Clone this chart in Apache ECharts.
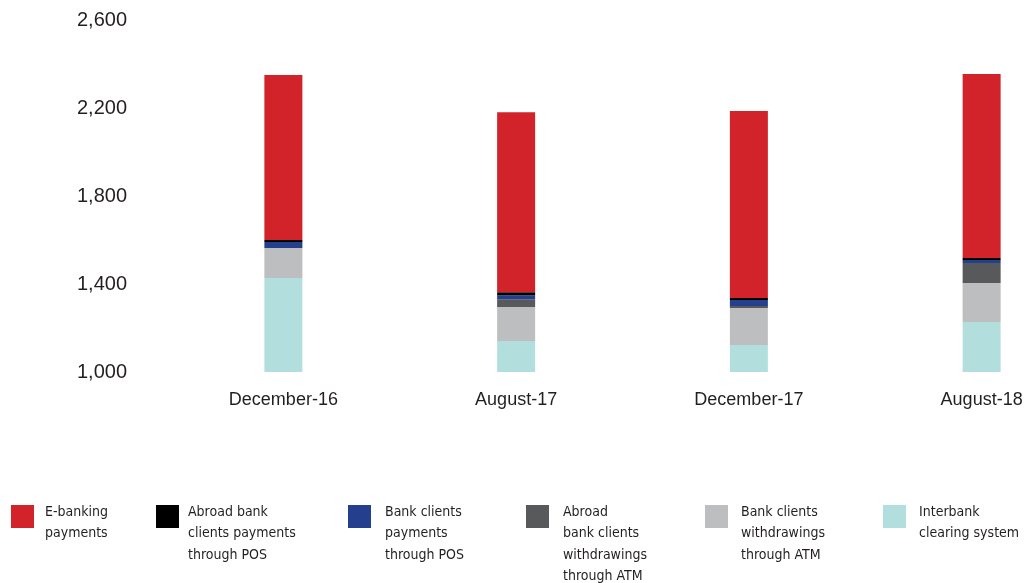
<!DOCTYPE html>
<html>
<head>
<meta charset="utf-8">
<script src="https://cdn.jsdelivr.net/npm/echarts@6/dist/echarts.min.js"></script>
<style>
  html, body { margin: 0; padding: 0; background: #fff; }
  #chart { width: 1029px; height: 583px; }
</style>
</head>
<body>
<div id="chart"></div>
<script>
// Periods on the x axis
var categories = ['December-16', 'August-17', 'December-17', 'August-18'];

// Stacked components, bottom to top
var interbankClearing   = [1427, 1141, 1123, 1227];
var bankClientsAtm      = [137, 154, 168, 178];
var abroadClientsAtm    = [0, 36, 9, 90];
var bankClientsPos      = [27, 18, 27, 14];
var abroadClientsPos    = [9, 14, 9, 9];
var eBankingPayments    = [750, 818, 850, 837];

// Value axis range
var yMin = 1000, yMax = 2600, yStep = 400;

var seriesDefs = [
  { name: 'Interbank\nclearing system', data: interbankClearing, color: '#B2DFDD' },
  { name: 'Bank clients\nwithdrawings\nthrough ATM', data: bankClientsAtm, color: '#BCBEC0' },
  { name: 'Abroad\nbank clients\nwithdrawings\nthrough ATM', data: abroadClientsAtm, color: '#58595B' },
  { name: 'Bank clients\npayments\nthrough POS', data: bankClientsPos, color: '#233F8E' },
  { name: 'Abroad bank\nclients payments\nthrough POS', data: abroadClientsPos, color: '#000000' },
  { name: 'E-banking\npayments', data: eBankingPayments, color: '#D2232A' }
];

// Legend slots (left-to-right), with swatch x and gap to text
var legendSlots = [
  { idx: 5, left: 11, gap: 6 },
  { idx: 4, left: 156, gap: 4 },
  { idx: 3, left: 348, gap: 9 },
  { idx: 2, left: 526, gap: 9 },
  { idx: 1, left: 705, gap: 8 },
  { idx: 0, left: 883, gap: 8 }
];

var LINE_H = 21.5, ICON = 23, ICON_TOP = 505;
var LEGEND_FONT = '"DejaVu Sans Condensed", "Liberation Sans Narrow", "DejaVu Sans", sans-serif';

var legends = legendSlots.map(function (slot) {
  var name = seriesDefs[slot.idx].name;
  var n = name.split('\n').length;
  // a spacer line above the text keeps the first line level with the swatch top
  var lead = LINE_H * n - 30.5;
  var boxTop = 11 - 10.75 * n;
  return {
    data: [name],
    left: slot.left,
    top: ICON_TOP + boxTop,
    padding: 0,
    icon: 'rect',
    itemWidth: ICON,
    itemHeight: ICON,
    selectedMode: false,
    formatter: function (nm) {
      return '{s| }\n' + nm.split('\n').map(function (l) { return '{a|' + l + '}'; }).join('\n');
    },
    textStyle: {
      padding: [0, 0, 0, slot.gap],
      rich: {
        s: { fontSize: 1, lineHeight: lead },
        a: { fontFamily: LEGEND_FONT, fontSize: 14, lineHeight: LINE_H, color: '#231F20' }
      }
    }
  };
});

var chart = echarts.init(document.getElementById('chart'), null, { renderer: 'canvas' });

chart.setOption({
  animation: false,
  backgroundColor: '#ffffff',
  grid: {
    left: 167, width: 931, top: 20, height: 352,
    containLabel: false,
    outerBoundsMode: 'none'
  },
  legend: legends,
  xAxis: {
    type: 'category',
    data: categories,
    axisLine: { show: false },
    axisTick: { show: false },
    axisLabel: {
      margin: 19,
      fontFamily: '"Liberation Sans", Arial, sans-serif',
      fontSize: 18,
      color: '#231F20'
    }
  },
  yAxis: {
    type: 'value',
    min: yMin,
    max: yMax,
    interval: yStep,
    splitLine: { show: false },
    axisLine: { show: false },
    axisTick: { show: false },
    axisLabel: {
      align: 'left',
      margin: 90,
      fontFamily: '"Liberation Sans", Arial, sans-serif',
      fontSize: 20,
      color: '#231F20',
      formatter: function (v) { return v.toLocaleString('en-US'); }
    }
  },
  series: seriesDefs.map(function (s) {
    return {
      name: s.name,
      type: 'bar',
      stack: 'total',
      barWidth: 38,
      data: s.data,
      itemStyle: { color: s.color },
      emphasis: { disabled: true }
    };
  })
});
</script>
</body>
</html>
